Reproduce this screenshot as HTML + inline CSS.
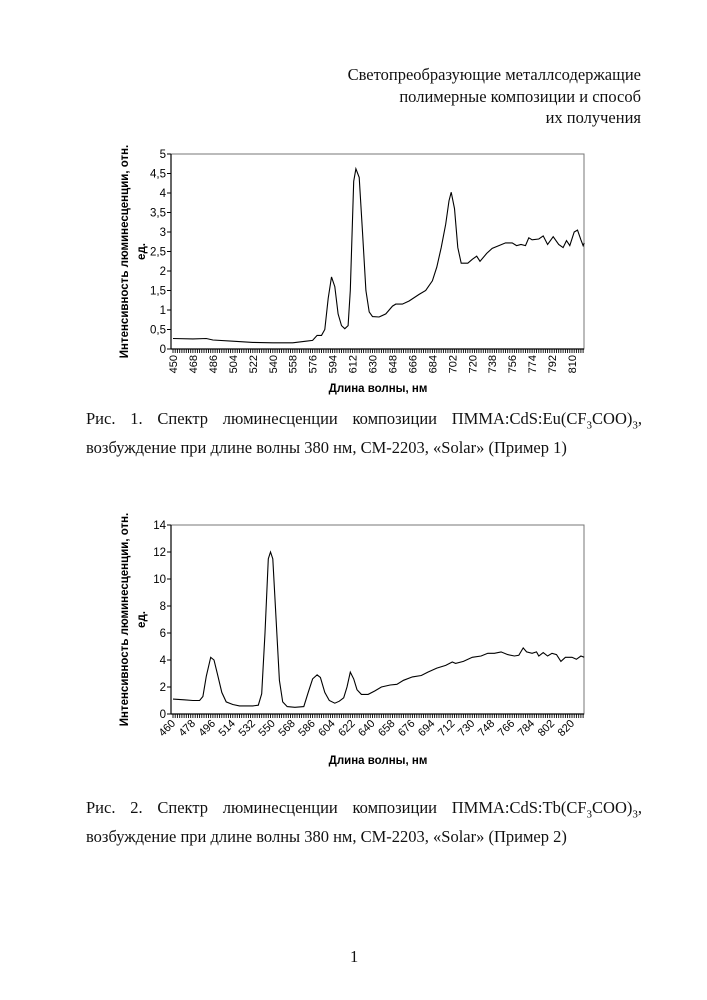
<!DOCTYPE html>
<html><head><meta charset="utf-8"><style>
body{margin:0;background:#fff;width:707px;height:1000px;position:relative;font-family:"Liberation Serif",serif;color:#111}
.t{position:absolute;font-size:16.5px;line-height:21.5px}
.hdr{right:66px;top:64px;text-align:right}
.cap{left:86px;width:556px;text-align:justify;text-align-last:left}
svg{position:absolute;left:0;top:0}
</style></head><body>
<div class="t hdr">Светопреобразующие металлсодержащие<br>полимерные композиции и способ<br>их получения</div>
<div class="t cap" style="top:408px">Рис. 1. Спектр люминесценции композиции ПММА:CdS:Eu(CF<sub style="font-size:11px">3</sub>COO)<sub style="font-size:11px">3</sub>, возбуждение при длине волны 380 нм, СМ-2203, «Solar» (Пример 1)</div>
<div class="t cap" style="top:797px">Рис. 2. Спектр люминесценции композиции ПММА:CdS:Tb(CF<sub style="font-size:11px">3</sub>COO)<sub style="font-size:11px">3</sub>, возбуждение при длине волны 380 нм, СМ-2203, «Solar» (Пример 2)</div>
<div class="t" style="left:350px;top:946px">1</div>
<svg id="s" width="707" height="1000"></svg>
<script>
const c1x=[450,468,480,486,504,522,540,558,570,576,580,584,587,590,593,596,599,602,605,608,610,613,615,618,621,624,627,630,636,642,648,651,657,663,672,678,684,688,692,696,699,701,704,707,710,716,720,724,727,733,738,744,750,756,760,764,768,771,774,780,784,788,793,798,802,805,808,812,815,818,820,821];
const c1y=[0.27,0.26,0.27,0.23,0.2,0.17,0.16,0.16,0.2,0.22,0.35,0.35,0.5,1.3,1.85,1.6,0.9,0.6,0.52,0.6,1.5,4.3,4.62,4.4,3.0,1.5,0.95,0.83,0.82,0.9,1.1,1.15,1.15,1.23,1.4,1.5,1.75,2.1,2.6,3.2,3.8,4.02,3.6,2.6,2.2,2.2,2.3,2.38,2.25,2.45,2.58,2.65,2.72,2.72,2.65,2.68,2.65,2.85,2.8,2.82,2.9,2.68,2.88,2.68,2.6,2.78,2.65,3.0,3.05,2.8,2.65,2.72];
const c1ticks=[450,468,486,504,522,540,558,576,594,612,630,648,666,684,702,720,738,756,774,792,810];
const c1yt=[0,0.5,1,1.5,2,2.5,3,3.5,4,4.5,5];
const c2x=[460,470,478,484,487,490,494,497,500,504,508,514,520,532,537,540,543,546,548,550,553,556,559,563,570,578,582,586,590,593,597,601,606,610,614,617,620,623,626,630,636,642,648,656,662,668,676,684,690,698,706,712,715,722,730,738,744,750,756,762,768,772,776,779,784,788,790,794,798,802,806,810,814,820,824,828,831];
const c2y=[1.1,1.05,1.0,1.0,1.3,2.8,4.2,4.0,3.0,1.6,0.9,0.7,0.6,0.6,0.65,1.5,6,11.5,12.0,11.5,7,2.5,0.9,0.55,0.5,0.55,1.6,2.6,2.9,2.7,1.6,1.0,0.8,0.95,1.2,2.0,3.1,2.6,1.8,1.45,1.45,1.7,2.0,2.15,2.2,2.5,2.75,2.85,3.1,3.4,3.6,3.85,3.75,3.9,4.2,4.3,4.5,4.5,4.6,4.4,4.3,4.35,4.9,4.6,4.5,4.6,4.3,4.55,4.3,4.5,4.4,3.9,4.2,4.2,4.05,4.3,4.2];
const c2ticks=[460,478,496,514,532,550,568,586,604,622,640,658,676,694,712,730,748,766,784,802,820];
const c2yt=[0,2,4,6,8,10,12,14];
const S=document.getElementById('s'),NS='http://www.w3.org/2000/svg';
function el(t,a,txt){const e=document.createElementNS(NS,t);for(const k in a)e.setAttribute(k,a[k]);if(txt!=null)e.textContent=txt;S.appendChild(e);return e;}
function chart(id,top,bot,x0,xs,ys,ticks,yt,ymax,rot){
 const L=171,R=584,x0px=173,k=399/360;
 const X=v=>x0px+(v-x0)*k, Y=v=>bot-(v/ymax)*(bot-top);
 let e=el('rect',{x:L,y:top,width:R-L,height:bot-top,fill:'none',stroke:'#777','stroke-width':1});
 
 e=el('line',{x1:L,y1:top,x2:L,y2:bot,stroke:'#000','stroke-width':1.2});
 
 e=el('line',{x1:L,y1:bot,x2:R,y2:bot,stroke:'#000','stroke-width':1.2});
 
 let d='';for(let v=x0;X(v)<=R;v+=2)d+=`M${X(v).toFixed(1)} ${bot}v4`;
 e=el('path',{d:d,stroke:'#000','stroke-width':0.9});
 
 yt.forEach(v=>{el('line',{x1:L-4,y1:Y(v),x2:L,y2:Y(v),stroke:'#000'});
  e=el('text',{x:L-5,y:Y(v)+4,'text-anchor':'end','font-size':11.5,'font-family':'Liberation Sans,sans-serif'},String(v).replace('.',','));
  });
 ticks.forEach(v=>{const x=X(v);
  if(rot) e=el('text',{x:x+3,y:bot+10,'text-anchor':'end','font-size':11,'font-family':'Liberation Sans,sans-serif',transform:`rotate(-45 ${x+3} ${bot+10})`},v);
  else e=el('text',{x:x+4,y:bot+6,'text-anchor':'end','font-size':11,'font-family':'Liberation Sans,sans-serif',transform:`rotate(-90 ${x+4} ${bot+6})`},v);
  });
 let p=xs.map((v,i)=>(i?'L':'M')+X(v).toFixed(1)+' '+Y(ys[i]).toFixed(1)).join('');
 e=el('path',{d:p,fill:'none',stroke:'#000','stroke-width':1.1});
 
 const cy=(top+bot)/2;
 e=el('text',{x:128,y:cy,'text-anchor':'middle','font-size':11.5,'font-weight':'bold','font-family':'Liberation Sans,sans-serif',transform:`rotate(-90 128 ${cy})`},'Интенсивность люминесценции, отн.');
 
 e=el('text',{x:145,y:cy,'text-anchor':'middle','font-size':11.5,'font-weight':'bold','font-family':'Liberation Sans,sans-serif',transform:`rotate(-90 145 ${cy})`},'ед.');
 
 e=el('text',{x:378,y:rot?bot+50:bot+43,'text-anchor':'middle','font-size':11.5,'font-weight':'bold','font-family':'Liberation Sans,sans-serif'},'Длина волны, нм');
 
}
chart('chart1',154,349,450,c1x,c1y,c1ticks,c1yt,5,false);
chart('chart2',525,714,460,c2x,c2y,c2ticks,c2yt,14,true);
</script>
</body></html>
